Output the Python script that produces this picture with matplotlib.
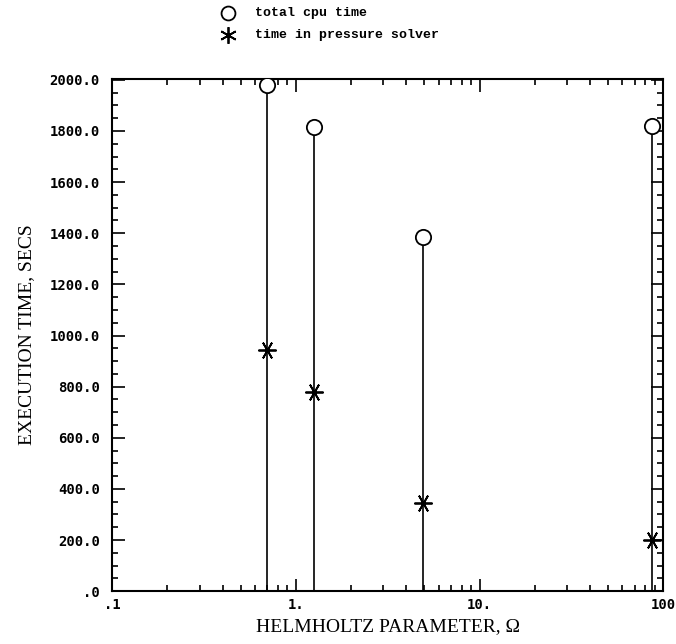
import matplotlib
matplotlib.use('Agg')
import matplotlib.pyplot as plt
from matplotlib.ticker import FixedLocator, FixedFormatter, MultipleLocator, LogLocator, NullFormatter

# data
omega = [0.7, 1.25, 4.9, 87.0]
total_cpu = [1980, 1815, 1385, 1820]
pressure_solver = [945, 780, 345, 200]

x_ticks = [0.1, 1, 10, 100]
x_tick_labels = ['.1', '1.', '10.', '100']
y_ticks = [0, 200, 400, 600, 800, 1000, 1200, 1400, 1600, 1800, 2000]
y_tick_labels = ['.0', '200.0', '400.0', '600.0', '800.0', '1000.0',
                 '1200.0', '1400.0', '1600.0', '1800.0', '2000.0']

star = (6, 2, 90)

fig = plt.figure(figsize=(6.76, 6.44), dpi=100)
ax = fig.add_axes([0.166, 0.082, 0.815, 0.796])

# stems from zero up to the total time
ax.vlines(omega, 0, total_cpu, color='black', linewidth=1.2)
ax.plot(omega, total_cpu, 'o', markersize=11, markerfacecolor='white',
        markeredgecolor='black', markeredgewidth=1.3, linestyle='none', zorder=3)
ax.plot(omega, pressure_solver, marker=star, markersize=13, color='black',
        markeredgewidth=1.3, linestyle='none', zorder=3)

ax.set_xscale('log')
ax.set_xlim(0.1, 100)
ax.set_ylim(0, 2005)

ax.xaxis.set_major_locator(FixedLocator(x_ticks))
ax.xaxis.set_major_formatter(FixedFormatter(x_tick_labels))
ax.xaxis.set_minor_locator(LogLocator(base=10, subs=range(2, 10)))
ax.xaxis.set_minor_formatter(NullFormatter())
ax.yaxis.set_major_locator(FixedLocator(y_ticks))
ax.yaxis.set_major_formatter(FixedFormatter(y_tick_labels))
ax.yaxis.set_minor_locator(MultipleLocator(50))

ax.tick_params(which='both', direction='in', top=True, right=True, width=1.2)
ax.tick_params(which='major', length=9)
ax.tick_params(which='minor', length=4)
ax.tick_params(axis='y', which='major', pad=9)
ax.tick_params(axis='x', which='major', pad=5)
for lab in ax.get_xticklabels() + ax.get_yticklabels():
    lab.set_fontfamily('DejaVu Sans Mono')
    lab.set_fontweight('bold')
    lab.set_fontsize(10)
for sp in ax.spines.values():
    sp.set_linewidth(1.5)

ax.set_xlabel('HELMHOLTZ PARAMETER, \u03a9', fontfamily='Liberation Serif',
              fontsize=14, labelpad=4)
ax.set_ylabel('EXECUTION TIME, SECS', fontfamily='Liberation Serif',
              fontsize=14, labelpad=10)

# legend drawn above the axes
fig.lines.append(plt.Line2D([0.337], [0.980], marker='o', markersize=10,
                            markerfacecolor='white', markeredgecolor='black',
                            markeredgewidth=1.3, transform=fig.transFigure))
fig.lines.append(plt.Line2D([0.337], [0.946], marker=(6, 2, 0), markersize=12,
                            color='black', markeredgewidth=1.3,
                            transform=fig.transFigure))
fig.text(0.377, 0.980, 'total cpu time', fontfamily='Liberation Mono',
         fontweight='bold', fontsize=9.5, va='center')
fig.text(0.377, 0.946, 'time in pressure solver', fontfamily='Liberation Mono',
         fontweight='bold', fontsize=9.5, va='center')

fig.savefig('out.png', dpi=100)
